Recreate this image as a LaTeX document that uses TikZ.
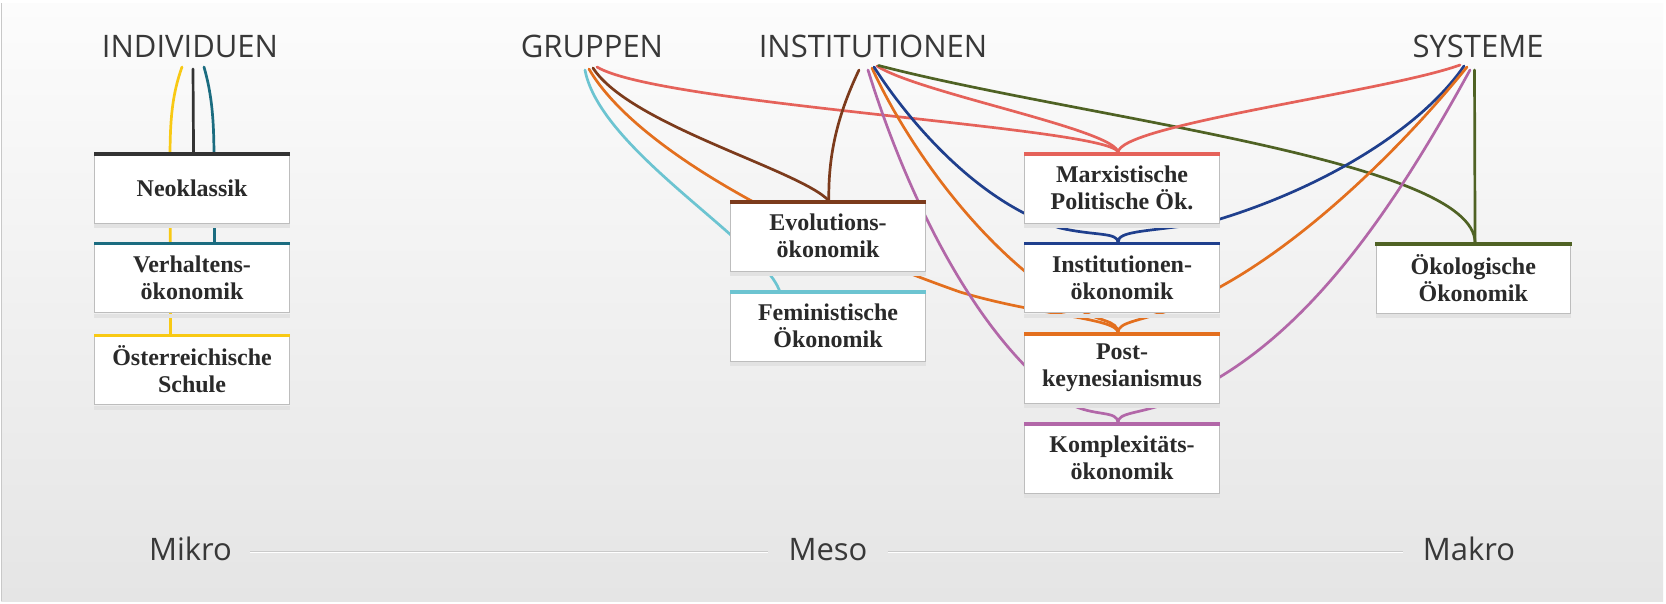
\documentclass[tikz,border=0pt]{standalone}
\usepackage{fontspec}
\setmainfont{Liberation Serif}
\newfontfamily\titlefont{Open Sans}
\usetikzlibrary{calc}
\pgfdeclarelayer{back}
\pgfdeclarelayer{wires}
\pgfsetlayers{back,wires,main}
\definecolor{cYellow}{HTML}{F8C914}
\definecolor{cBlack}{HTML}{333333}
\definecolor{cTeal}{HTML}{1B6C80}
\definecolor{cCyan}{HTML}{6CC4D1}
\definecolor{cOrange}{HTML}{E36F1E}
\definecolor{cBrown}{HTML}{7C3B1C}
\definecolor{cRed}{HTML}{E5625A}
\definecolor{cPurple}{HTML}{B267A8}
\definecolor{cNavy}{HTML}{1F3F8D}
\definecolor{cGreen}{HTML}{4F6224}
\definecolor{boxline}{HTML}{BDBDBD}
\definecolor{boxshadow}{HTML}{E2E2E2}
\definecolor{txt}{HTML}{2A2A2A}
\definecolor{ttltxt}{HTML}{383838}
\definecolor{rulec}{HTML}{CACACA}
\definecolor{bgtop}{HTML}{FCFCFC}
\definecolor{bgbot}{HTML}{E5E5E5}
\definecolor{edgec}{HTML}{C8C8C8}
\begin{document}
\begin{tikzpicture}[x=1pt,y=-1pt,
  box/.style={draw=boxline, line width=1pt, fill=white, minimum width=194.5pt,
    minimum height=70pt, anchor=north west, align=center, inner sep=0pt,
    text=txt, font=\fontsize{24}{27}\selectfont\bfseries},
  ttl/.style={anchor=base, text=ttltxt, inner sep=0pt, font=\titlefont\fontsize{31}{36}\selectfont},
  w/.style={line width=2.7pt, line cap=round},
  rulestyle/.style={rulec, line width=1.2pt}]
\useasboundingbox (0,0) rectangle (1666,603);

% background panel
\begin{pgfonlayer}{back}
\fill[white] (0,0) rectangle (1666,603);
\shade[top color=bgtop, bottom color=bgbot] (1,3) rectangle (1663,601);
\draw[edgec, line width=1pt] (1.5,3) -- (1.5,601);
\end{pgfonlayer}

% titles
\node[ttl] (ind) at (190,57) {INDIVIDUEN};
\node[ttl] (grp) at (592,57) {GRUPPEN};
\node[ttl] (inst) at (873,57) {INSTITUTIONEN};
\node[ttl] (sys) at (1478,57) {SYSTEME};

% scale labels
\node[ttl] (mikro) at (190.5,560) {Mikro};
\node[ttl] (meso) at (828,560) {Meso};
\node[ttl] (makro) at (1469,560) {Makro};
\draw[rulestyle] ([shift={(18,-8.4)}]mikro.base east) -- ([shift={(-20,-8.4)}]meso.base west);
\draw[rulestyle] ([shift={(20,-8.4)}]meso.base east) -- ([shift={(-20,-8.4)}]makro.base west);
\draw[white, line width=1pt] ([shift={(18,-7.2)}]mikro.base east) -- ([shift={(-20,-7.2)}]meso.base west);
\draw[white, line width=1pt] ([shift={(20,-7.2)}]meso.base east) -- ([shift={(-20,-7.2)}]makro.base west);

% boxes
\node[box] (neo)   at (94.3,152.5) {Neoklassik};
\node[box] (verh)  at (94.3,242.3) {Verhaltens-\\ökonomik};
\node[box] (oest)  at (94.3,334)   {Österreichische\\Schule};
\node[box] (evo)   at (730.3,200.7) {Evolutions-\\ökonomik};
\node[box] (fem)   at (730.3,290.7) {Feministische\\Ökonomik};
\node[box] (marx)  at (1024.3,152.7) {Marxistische\\Politische Ök.};
\node[box] (ins)   at (1024.3,242.3) {Institutionen-\\ökonomik};
\node[box] (post)  at (1024.3,332.7) {Post-\\keynesianismus};
\node[box] (kompl) at (1024.3,422.7) {Komplexitäts-\\ökonomik};
\node[box] (oeko)  at (1375.5,242.7) {Ökologische\\Ökonomik};

% shadows and top bars
\foreach \b/\c in {neo/cBlack, verh/cTeal, oest/cYellow, evo/cBrown, fem/cCyan,
                   marx/cRed, ins/cNavy, post/cOrange, kompl/cPurple, oeko/cGreen}{
  \fill[boxshadow] ([yshift=-0.5pt]\b.south west) rectangle ([yshift=-4.5pt]\b.south east);
  \fill[\c] ([xshift=-0.5pt,yshift=0.5pt]\b.north west) rectangle ([xshift=0.5pt,yshift=-3pt]\b.north east);
}

% connector end points
\coordinate (i-y) at (182,67);
\coordinate (i-k) at (193,69);
\coordinate (i-t) at (204,67);
\coordinate (g-c) at (585,70);
\coordinate (g-o) at (589,69);
\coordinate (g-b) at (593,68);
\coordinate (g-r) at (597,67);
\coordinate (n-b) at (859,70);
\coordinate (n-p) at (868,70);
\coordinate (n-o) at (872,68);
\coordinate (n-n) at (874,67);
\coordinate (n-r) at (877,66);
\coordinate (n-g) at (878.5,65.5);
\coordinate (s-r) at (1460,65);
\coordinate (s-n) at (1464,66);
\coordinate (s-o) at (1467,67);
\coordinate (s-p) at (1470,70);
\coordinate (s-g) at (1474.5,70);
\coordinate (neo-in) at ([xshift=1.5pt]neo.north);
\coordinate (verh-in) at ([xshift=22.5pt]verh.north);
\coordinate (oest-in) at ([xshift=-21.5pt]oest.north);
\coordinate (evo-in) at ([xshift=0.8pt]evo.north);
\coordinate (fem-in) at ([xshift=-48.5pt]fem.north);
\coordinate (marx-in) at ([xshift=-4pt]marx.north);
\coordinate (ins-in) at ([xshift=-4pt]ins.north);
\coordinate (post-in) at ([xshift=-4pt]post.north);
\coordinate (kompl-in) at ([xshift=-4pt]kompl.north);
\coordinate (oeko-in) at ([xshift=1.8pt]oeko.north);

% connectors
\begin{pgfonlayer}{wires}
\draw[w, cYellow] (i-y) .. controls (172,95) and (170,120) .. (170,160) -- (oest-in);
\draw[w, cBlack] (i-k) -- (neo-in);
\draw[w, cTeal] (i-t) .. controls (212,95) and (214,120) .. (214,160) -- (verh-in);

\draw[w, cCyan] (g-c) .. controls (600,150) and (760,240) .. (fem-in);
\draw[w, cOrange] (g-o) .. controls (630,140) and (770,225) .. (960,292) .. controls (1040,316) and (1117.5,318) .. (post-in);
\draw[w, cBrown] (g-b) .. controls (630,125) and (800,170) .. (evo-in);
\draw[w, cRed] (g-r) .. controls (660,105) and (1117.5,128) .. (marx-in);

\draw[w, cBrown] (n-b) .. controls (840,110) and (828,150) .. (evo-in);
\draw[w, cPurple] (n-p) .. controls (905,190) and (975,340) .. (1070,404) .. controls (1095,417) and (1117.5,410) .. (kompl-in);
\draw[w, cOrange] (n-o) .. controls (900,130) and (975,250) .. (1080,310) .. controls (1100,322) and (1117.5,320) .. (post-in);
\draw[w, cNavy] (n-n) .. controls (900,108) and (970,200) .. (1060,228) .. controls (1095,236) and (1117.5,232) .. (ins-in);
\draw[w, cRed] (n-r) .. controls (918,93) and (1117.5,130) .. (marx-in);
\draw[w, cGreen] (n-g) .. controls (1080,118) and (1474.5,160) .. (oeko-in);

\draw[w, cRed] (s-r) .. controls (1385,92) and (1117.5,125) .. (marx-in);
\draw[w, cNavy] (s-n) .. controls (1420,130) and (1320,190) .. (1210,222) .. controls (1150,232) and (1117.5,230) .. (ins-in);
\draw[w, cOrange] (s-o) .. controls (1400,150) and (1280,270) .. (1170,310) .. controls (1140,321) and (1117.5,322) .. (post-in);
\draw[w, cPurple] (s-p) .. controls (1385,225) and (1295,352) .. (1170,402) .. controls (1140,414) and (1117.5,412) .. (kompl-in);
\draw[w, cGreen] (s-g) -- (oeko-in);
\end{pgfonlayer}
\end{tikzpicture}
\end{document}
